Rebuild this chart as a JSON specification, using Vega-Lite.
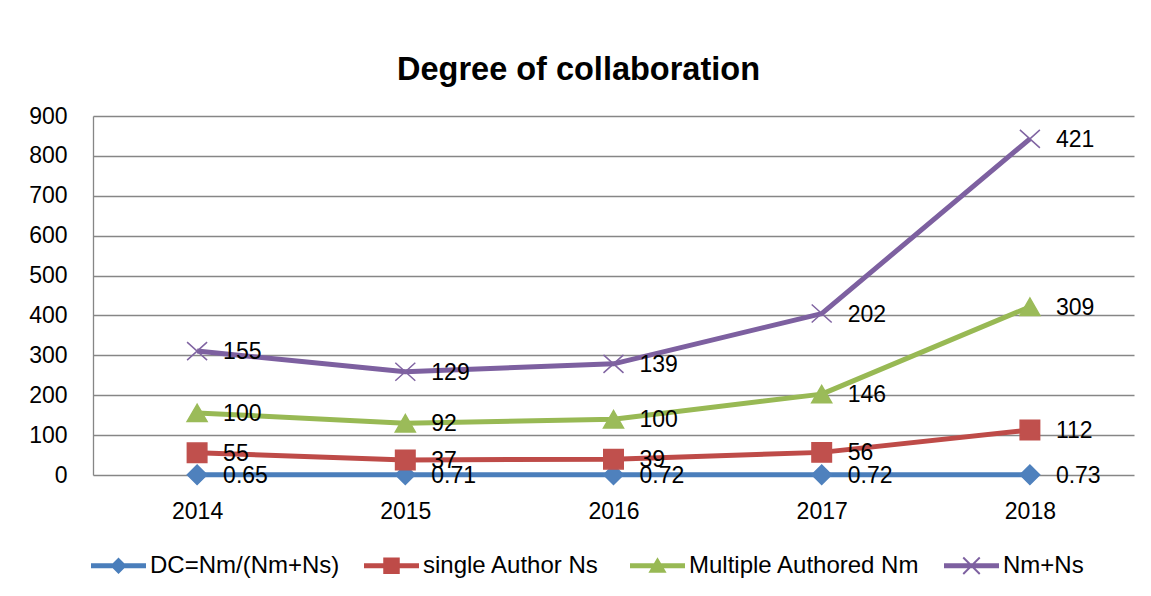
{
  "$schema": "https://vega.github.io/schema/vega-lite/v6.json",
  "width": 1041,
  "height": 359,
  "autosize": {"type": "none"},
  "padding": {"left": 93, "top": 116, "right": 17, "bottom": 121},
  "background": "white",
  "title": {
    "text": "Degree of collaboration",
    "font": "Liberation Sans",
    "fontSize": 32.5,
    "fontWeight": "bold",
    "color": "black",
    "anchor": "middle",
    "dx": -35,
    "dy": 43,
    "offset": 36,
    "baseline": "alphabetic"
  },
  "data": {
    "values": [
      {"year": "2014", "series": "DC=Nm/(Nm+Ns)", "k": 0, "value": 0.65},
      {"year": "2014", "series": "single  Author Ns", "k": 1, "value": 55},
      {"year": "2014", "series": "Multiple Authored Nm", "k": 2, "value": 100},
      {"year": "2014", "series": "Nm+Ns", "k": 3, "value": 155},
      {"year": "2015", "series": "DC=Nm/(Nm+Ns)", "k": 0, "value": 0.71},
      {"year": "2015", "series": "single  Author Ns", "k": 1, "value": 37},
      {"year": "2015", "series": "Multiple Authored Nm", "k": 2, "value": 92},
      {"year": "2015", "series": "Nm+Ns", "k": 3, "value": 129},
      {"year": "2016", "series": "DC=Nm/(Nm+Ns)", "k": 0, "value": 0.72},
      {"year": "2016", "series": "single  Author Ns", "k": 1, "value": 39},
      {"year": "2016", "series": "Multiple Authored Nm", "k": 2, "value": 100},
      {"year": "2016", "series": "Nm+Ns", "k": 3, "value": 139},
      {"year": "2017", "series": "DC=Nm/(Nm+Ns)", "k": 0, "value": 0.72},
      {"year": "2017", "series": "single  Author Ns", "k": 1, "value": 56},
      {"year": "2017", "series": "Multiple Authored Nm", "k": 2, "value": 146},
      {"year": "2017", "series": "Nm+Ns", "k": 3, "value": 202},
      {"year": "2018", "series": "DC=Nm/(Nm+Ns)", "k": 0, "value": 0.73},
      {"year": "2018", "series": "single  Author Ns", "k": 1, "value": 112},
      {"year": "2018", "series": "Multiple Authored Nm", "k": 2, "value": 309},
      {"year": "2018", "series": "Nm+Ns", "k": 3, "value": 421}
    ]
  },
  "transform": [
    {"stack": "value", "groupby": ["year"], "sort": [{"field": "k", "order": "ascending"}], "as": ["y0", "y1"]}
  ],
  "encoding": {
    "x": {
      "field": "year",
      "type": "ordinal",
      "scale": {"type": "point", "padding": 0.5},
      "axis": {
        "title": null,
        "domain": false,
        "ticks": false,
        "grid": false,
        "labelAngle": 0,
        "labelFont": "Liberation Sans",
        "labelFontSize": 23,
        "labelColor": "black",
        "labelPadding": 25
      }
    },
    "y": {
      "field": "y1",
      "type": "quantitative",
      "scale": {"domain": [0, 900], "nice": false},
      "axis": {
        "title": null,
        "values": [0, 100, 200, 300, 400, 500, 600, 700, 800, 900],
        "domain": true,
        "domainColor": "#868686",
        "domainWidth": 1.3,
        "ticks": false,
        "grid": true,
        "gridColor": "#868686",
        "gridWidth": 1.3,
        "gridOpacity": 1,
        "labelFont": "Liberation Sans",
        "labelFontSize": 23,
        "labelColor": "black",
        "labelPadding": 26
      }
    }
  },
  "layer": [
    {
      "mark": {"type": "line", "strokeWidth": 5, "strokeJoin": "round"},
      "encoding": {
        "color": {
          "field": "series",
          "type": "nominal",
          "scale": {
            "domain": ["DC=Nm/(Nm+Ns)", "single  Author Ns", "Multiple Authored Nm", "Nm+Ns"],
            "range": ["#4A7EBB", "#BE4B48", "#98B954", "#7D60A0"]
          },
          "legend": {
            "title": null,
            "orient": "none",
            "legendX": -2,
            "legendY": 422,
            "direction": "horizontal",
            "symbolSize": 3025,
            "symbolStrokeWidth": 0,
            "labelFont": "Liberation Sans",
            "labelFontSize": 24,
            "labelColor": "black",
            "labelOffset": 4,
            "labelLimit": 500,
            "columnPadding": 24,
            "encode": {
              "symbols": {
                "update": {
                  "shape": {"signal": "datum.value === 'DC=Nm/(Nm+Ns)' ? 'M-1,-0.09L1,-0.09L1,0.09L-1,0.09ZM0,-0.3L0.3,0L0,0.3L-0.3,0Z' : datum.value === 'single  Author Ns' ? 'M-1,-0.09L1,-0.09L1,0.09L-1,0.09ZM-0.3,-0.3L0.3,-0.3L0.3,0.3L-0.3,0.3Z' : datum.value === 'Multiple Authored Nm' ? 'M-1,-0.09L1,-0.09L1,0.09L-1,0.09ZM0,-0.31L0.33,0.25L-0.33,0.25Z' : 'M-1,-0.09L1,-0.09L1,0.09L-1,0.09ZM-0.325,-0.275L-0.275,-0.325L0.325,0.275L0.275,0.325ZM0.275,-0.325L0.325,-0.275L-0.275,0.325L-0.325,0.275Z'"},
                  "fill": {"scale": "color", "field": "value"},
                  "stroke": {"value": "transparent"},
                  "strokeWidth": {"value": 0},
                  "opacity": {"value": 1}
                }
              }
            }
          }
        }
      }
    },
    {
      "transform": [{"filter": "datum.k === 0"}],
      "mark": {"type": "point", "shape": "diamond", "filled": true, "opacity": 1, "fill": "#4F81BD", "stroke": "#4F81BD", "strokeWidth": 1.5, "size": 380}
    },
    {
      "transform": [{"filter": "datum.k === 1"}],
      "mark": {"type": "point", "shape": "square", "filled": true, "opacity": 1, "fill": "#C0504D", "stroke": "#C0504D", "strokeWidth": 1.5, "size": 380}
    },
    {
      "transform": [{"filter": "datum.k === 2"}],
      "mark": {"type": "point", "shape": "triangle-up", "filled": true, "opacity": 1, "fill": "#9BBB59", "stroke": "#9BBB59", "strokeWidth": 1.5, "size": 400}
    },
    {
      "transform": [{"filter": "datum.k === 3"}],
      "mark": {"type": "point", "shape": "M-1,-0.9L1,0.9M-1,0.9L1,-0.9", "filled": false, "opacity": 1, "stroke": "#8064A2", "strokeWidth": 1.5, "size": 400}
    },
    {
      "mark": {"type": "text", "align": "left", "baseline": "middle", "dx": 26, "dy": 1, "font": "Liberation Sans", "fontSize": 23, "color": "black"},
      "encoding": {
        "text": {"field": "value", "type": "nominal"}
      }
    }
  ],
  "config": {
    "view": {"stroke": null}
  }
}
